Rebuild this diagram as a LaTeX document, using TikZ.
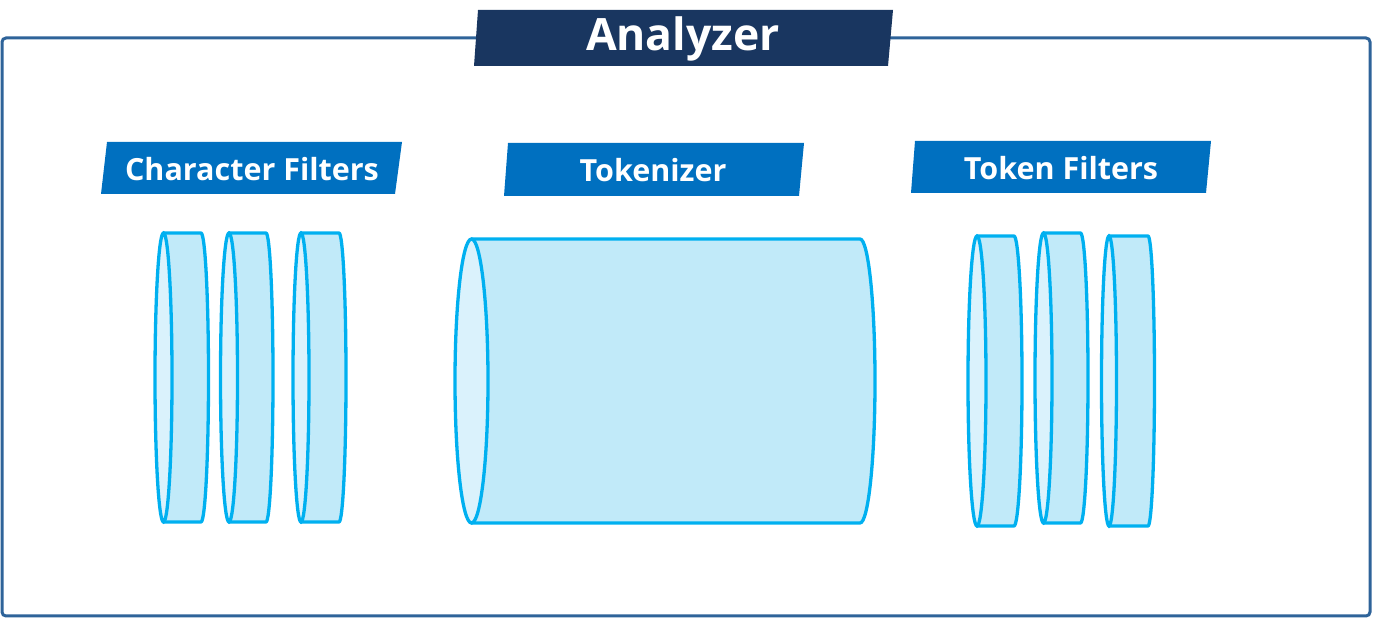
\documentclass[tikz,border=0pt]{standalone}
\usepackage{fontspec}
\setmainfont{Open Sans}
\begin{document}
\begin{tikzpicture}[x=1pt,y=1pt,
  framecol/.style={draw=frameblue,line width=3pt,rounded corners=4pt},
  titleband/.style={fill=navy},
  labelband/.style={fill=midblue},
  titletext/.style={text=white,font=\bfseries\fontsize{44.5}{45}\selectfont,inner sep=0pt},
  labeltext/.style={text=white,font=\bfseries\fontsize{30.5}{31}\selectfont,inner sep=0pt},
  body/.style={fill=bodyfill,draw=edge,line width=3.3pt,line join=round},
  face/.style={fill=facefill,draw=edge,line width=3.3pt}]
\definecolor{frameblue}{HTML}{2E6399}
\definecolor{navy}{HTML}{193660}
\definecolor{midblue}{HTML}{0070C0}
\definecolor{edge}{HTML}{00B0F0}
\definecolor{bodyfill}{HTML}{C1EAF9}
\definecolor{facefill}{HTML}{DAF2FC}
\useasboundingbox (0,0) rectangle (1373,618);

% outer frame
\draw[framecol] (2,580) rectangle (1370,2);

% title banner
\fill[titleband] (478,608) -- (893,608) -- (888,552) -- (474,552) -- cycle;
\node[titletext] (title) at (683,579) {Analyzer};

% section banners
\fill[labelband] (107,476) -- (402,476) -- (395,424) -- (101,424) -- cycle;
\node[labeltext] (charlbl) at (252,449) {Character Filters};
\fill[labelband] (508,475) -- (804,475) -- (799,422) -- (504,422) -- cycle;
\node[labeltext] (toklbl) at (653,448) {Tokenizer};
\fill[labelband] (915,477) -- (1211,477) -- (1206,425) -- (911,425) -- cycle;
\node[labeltext] (tflbl) at (1061,450) {Token Filters};

% cylinders: centre x, centre y, length, left rx, right rx, ry
\foreach \cx/\cy/\w/\rl/\rr/\ry in {
  163.5/240.5/37.5/8.5/7.5/144.5,
  229/240.5/37/8.5/7/144.5,
  301/240.5/38/8/7/144.5,
  471.5/237/388.5/16.5/15/142,
  977/237/37/9/8/145,
  1043.5/240/37/8.5/7.5/145,
  1109/237/39/7.5/6.5/145}{
  \draw[body] (\cx,\cy+\ry) -- (\cx+\w,\cy+\ry)
     arc[start angle=90,end angle=-90,x radius=\rr,y radius=\ry]
     -- (\cx,\cy-\ry) -- cycle;
  \draw[face] (\cx,\cy) ellipse[x radius=\rl,y radius=\ry];
}
\end{tikzpicture}
\end{document}
